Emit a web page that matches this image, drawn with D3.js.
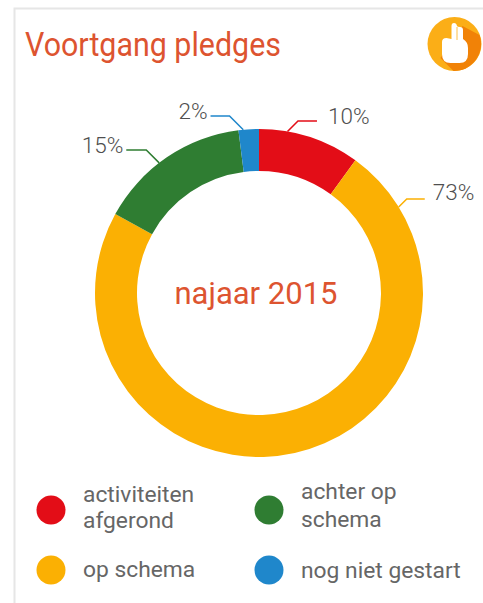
<!DOCTYPE html>
<html>
<head>
<meta charset="utf-8">
<script src="https://cdn.jsdelivr.net/npm/d3@7"></script>
<style>
  html, body { margin: 0; padding: 0; background: #fff; }
  text { font-family: Roboto, sans-serif; }
</style>
</head>
<body>
<div id="chart"></div>
<script>
const categories = ["activiteiten afgerond", "op schema", "achter op schema", "nog niet gestart"];
const values = [10, 73, 15, 2];
const colors = ["#e30d17", "#fbb003", "#2f7d32", "#1f87cb"];

const legendLines = [["activiteiten", "afgerond"], ["op schema"], ["achter op", "schema"], ["nog niet gestart"]];

const width = 483;
const height = 603;
const cx = 259;
const cy = 293;
const outer = 164;
const inner = 122;

const svg = d3.select("#chart")
  .append("svg")
    .attr("width", width)
    .attr("height", height)
    .style("display", "block");

// card border
svg.append("path")
  .attr("d", "M14.5,603V8.5H483")
  .attr("fill", "none")
  .attr("stroke", "#e6e6e6")
  .attr("stroke-width", 2);

svg.append("text")
  .attr("x", 25)
  .attr("y", 56)
  .attr("font-size", 33.5)
  .attr("fill", "#dd5430")
  .attr("textLength", 256)
  .attr("lengthAdjust", "spacingAndGlyphs")
  .text("Voortgang pledges");

// badge icon
const icon = svg.append("g").attr("transform", "translate(454.5,44)");
icon.append("circle").attr("r", 27).attr("fill", "#fbae17");
icon.append("path")
  .attr("d", "M8,-18L25,-9A27,27,0 0,1 -1,27L-14,14Z")
  .attr("fill", "#f18207");
icon.append("path")
  .attr("d", "M-3,-18Q-3,-21 -0.5,-21Q2,-21 2.5,-18Q3,-17 5.5,-17Q8.5,-17 8.5,-14V-5Q13.5,-2 13.5,4V10Q13.5,19 5,19H-4Q-12.5,19 -12.5,10V-2Q-12.5,-6 -8,-6L-3,-5Z")
  .attr("fill", "#fff");
icon.append("path")
  .attr("d", "M2.5,-17V-4")
  .attr("stroke", "#fbae17")
  .attr("stroke-width", 0.8);

// Donut
const pie = d3.pie().sort(null).value(d => d)(values);
const arcs = d3.arc().innerRadius(inner).outerRadius(outer);

const donut = svg.append("g").attr("transform", `translate(${cx},${cy})`);

donut.selectAll("path.slice")
  .data(pie)
  .enter().append("path")
    .attr("class", "slice")
    .attr("d", arcs)
    .attr("fill", (d, i) => colors[i]);

// Leaders sit at hand-placed angles, same as the original
const leaderAngles = [10, 58.4, -37.5, -5.5];
const leaderSide = [1, 1, -1, -1];
const leaderY = [-172, -94, -143, -177];
const leaderLen = [19, 18, 20, 19];
const labelGap = [11, 8, 3, 3];
const labelDy = [3, 1, 3, 3];
const rad = d => d * Math.PI / 180;

const leaderKnee = i => {
  const a = rad(leaderAngles[i]);
  const x0 = Math.sin(a) * outer;
  const y0 = -Math.cos(a) * outer;
  return { x0, y0, x1: x0 + leaderSide[i] * Math.abs(leaderY[i] - y0) };
};

donut.selectAll("path.leader")
  .data(pie)
  .enter().append("path")
    .attr("class", "leader")
    .attr("fill", "none")
    .attr("stroke", (d, i) => colors[i])
    .attr("stroke-width", 1.5)
    .attr("d", (d, i) => {
      const k = leaderKnee(i);
      return d3.line()([[k.x0, k.y0], [k.x1, leaderY[i]], [k.x1 + leaderSide[i] * leaderLen[i], leaderY[i]]]);
    });

donut.selectAll("text.pct")
  .data(pie)
  .enter().append("text")
    .attr("class", "pct")
    .attr("font-size", 22.5)
    .attr("font-weight", 300)
    .attr("fill", "#4f4f4f")
    .attr("text-anchor", (d, i) => leaderSide[i] > 0 ? "start" : "end")
    .attr("x", (d, i) => leaderKnee(i).x1 + leaderSide[i] * (leaderLen[i] + labelGap[i]))
    .attr("y", (d, i) => leaderY[i] + labelDy[i])
    .text(d => d.data + "%");

svg.append("text")
  .attr("x", 256)
  .attr("y", 304)
  .attr("text-anchor", "middle")
  .attr("font-size", 31)
  .attr("fill", "#dd5430")
  .text("najaar 2015");

// Legends
const legendX = [51, 269];
const legendY = [510, 570];
const legendDy = [[-8, 18], [7], [-11, 17], [8]];
const legend = svg.selectAll(".legends")
  .data(categories)
  .enter().append("g")
    .classed("legends", true)
    .attr("transform", (d, i) => `translate(${legendX[i >> 1]},${legendY[i % 2]})`);

legend.append("circle")
  .attr("r", 14.5)
  .attr("fill", (d, i) => colors[i]);

legend.append("text")
  .attr("font-size", 22.8)
  .attr("fill", "#666")
  .selectAll("tspan")
  .data((d, i) => legendLines[i].map((t, j) => ({ t, y: legendDy[i][j] })))
  .enter().append("tspan")
    .attr("x", 32)
    .attr("y", d => d.y)
    .text(d => d.t);
</script>
</body>
</html>
